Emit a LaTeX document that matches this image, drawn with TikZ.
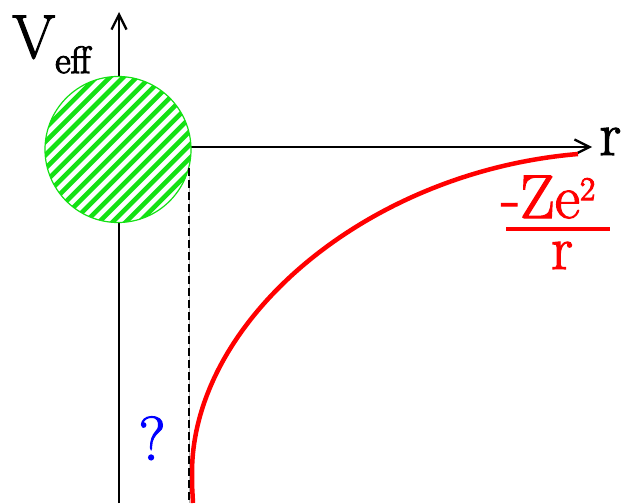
\documentclass[tikz,border=0pt]{standalone}
\usetikzlibrary{arrows.meta}
\definecolor{nucgreen}{RGB}{20,225,20}
\newcommand\heavytext[1]{\special{pdf:literal direct 2 Tr 1.1 w}#1\special{pdf:literal direct 0 Tr}}
\tikzset{
  axis/.style={line width=2.3pt, -{Straight Barb[length=15pt,width=15pt,line width=2.3pt]}},
  stripe/.style={nucgreen, line width=4.6pt},
  bigtext/.style={inner sep=0pt, font=\fontsize{62}{62}\selectfont},
  potential/.style={red, line width=4.5pt},
}
\begin{document}
\begin{tikzpicture}[x=1pt,y=-1pt]
\useasboundingbox (0,0) rectangle (631,503);
% axes
\coordinate (ybot) at (119,503);
\coordinate (ytop) at (119,12);
\coordinate (xleft) at (119,147);
\coordinate (xright) at (592,147);
\draw[axis] (ybot) -- (ytop);
\draw[axis] (xleft) -- (xright);
% potential curve
\coordinate (cstart) at (578,154);
\coordinate (cmid) at (192,473);
\coordinate (cend) at (193,503);
\draw[potential] (cstart) .. controls (365,172) and (192,322) .. (cmid) .. controls (192,485) .. (cend);
% nucleus
\node (nucleus) [circle, draw=nucgreen, line width=1.2pt, fill=white, minimum size=146pt, inner sep=0pt,
  path picture={
    \foreach \i in {-14,...,14}
      \draw[stripe] ([shift={(\i*13.4-110,110)}]path picture bounding box.center) -- ++(220,-220);
  }] at (118,149.5) {};
% dashed radius line
\coordinate (dtop) at (189.5,168);
\coordinate (dbot) at (189.5,503);
\draw[gray!60, line width=0.8pt] (dtop) -- (dbot);
\draw[black, line width=2pt, dash pattern=on 8pt off 4pt] ([xshift=-1pt]dtop) -- ([xshift=-1pt]dbot);
% labels
\node (vlabel) [bigtext, anchor=base west] at (12,58) {\heavytext{V\raisebox{-15pt}{\fontsize{38}{38}\selectfont eff}}};
\node (rlabel) [bigtext, anchor=base west] at (599,155) {\heavytext{r}};
\node (num) [bigtext, red, anchor=base west] at (501,218) {\heavytext{-Ze\raisebox{18pt}{\fontsize{33}{33}\selectfont 2}}};
\coordinate (barl) at (506,229);
\coordinate (barr) at (610,229);
\draw[red, line width=4pt] (barl) -- (barr);
\node (den) [bigtext, red, anchor=base] at (562,269) {\heavytext{r}};
\node (qmark) [bigtext, blue, anchor=base] at (152,460) {\heavytext{?}};
\end{tikzpicture}
\end{document}
